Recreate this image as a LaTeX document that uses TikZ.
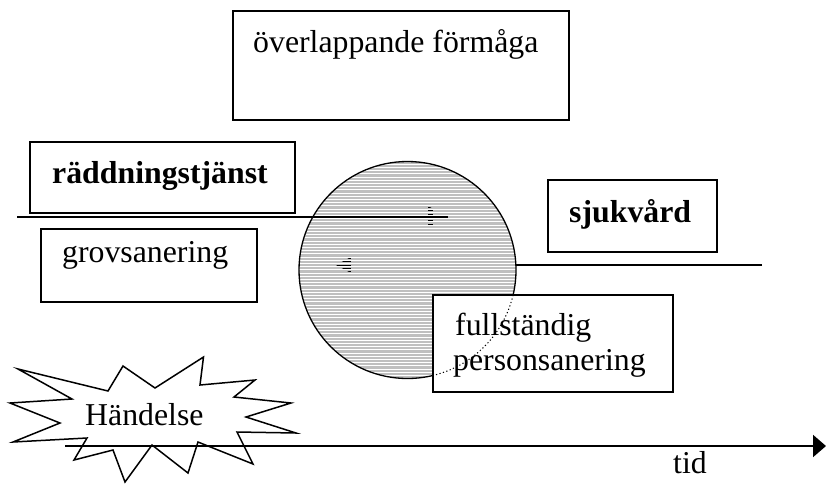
\documentclass[tikz,border=0pt]{standalone}
\usepackage{fontspec}
\setmainfont{Liberation Serif}
\usetikzlibrary{arrows.meta}
\begin{document}
\begin{tikzpicture}[x=1pt,y=-1pt,
  box/.style={draw, line width=1.5pt, fill=white, inner sep=0pt},
  lbl/.style={anchor=base west, inner sep=0pt, font=\fontsize{31.8}{38}\selectfont},
  thinline/.style={line width=1.8pt},
  stripes/.style={white, line width=0.9pt}]
\useasboundingbox (0,0) rectangle (826,483);

% event star
\draw[line width=1.5pt, fill=white, line join=miter]
  (18,369) -- (108,391) -- (123,366) -- (155,388) -- (203.5,357) -- (200,385)
  -- (255,380) -- (234,397) -- (291,403) -- (246,417) -- (296,433) -- (237,432)
  -- (253,464) -- (198,442) -- (188,473) -- (152,445) -- (125,482) -- (113,450)
  -- (74,460) -- (87,438) -- (13,442) -- (60,423) -- (10,403) -- (72,399) -- cycle;
\node[lbl] (handelse) at (85,425) {Händelse};

% lower line (sjukvård level), hidden under the circle
\coordinate (lowR) at (762,265);
\coordinate (lowL) at (350,265);
\draw[thinline] (lowR) -- (lowL);

% circle
\coordinate (c) at (407.5,270);
\begin{scope}
  \clip (c) circle (108.5);
  \fill[gray!50] (290,155) rectangle (525,385);
  \foreach \yy in {161,164.2,...,382} \draw[stripes] (290,\yy) -- (525,\yy);
\end{scope}
\draw[line width=1.3pt] (c) circle (108.5);

% boxes
\node[box, minimum width=336pt, minimum height=109pt] (topbox) at (401,65.5) {};
\node[lbl] (toptext) at (253,52) {överlappande förmåga};

\node[box, minimum width=265pt, minimum height=71pt] (rtbox) at (162.5,177.5) {};
\node[lbl, font=\fontsize{31.8}{38}\selectfont\bfseries] (rttext) at (52,183) {räddningstjänst};

\node[box, minimum width=216pt, minimum height=73pt] (gsbox) at (149,265.5) {};
\node[lbl] (gstext) at (62,262) {grovsanering};

\node[box, minimum width=169pt, minimum height=72pt] (skbox) at (632.5,216) {};
\node[lbl, font=\fontsize{31.8}{38}\selectfont\bfseries] (sktext) at (569,222) {sjukvård};

\node[box, minimum width=240pt, minimum height=97pt] (fpbox) at (553,343.5) {};
\node[lbl] (fptext1) at (455,335) {fullständig};
\node[lbl] (fptext2) at (453,370) {personsanering};

% hidden part of circle outline, dotted
\draw[line width=1pt, dash pattern=on 1.2pt off 2.4pt] ([shift={(13.3:108.5)}]c) arc[start angle=13.3, end angle=77, radius=108.5];

% upper line (räddningstjänst level) with striped head
\coordinate (upL) at (17,217);
\coordinate (upR) at (448,217);
\draw[thinline] (upL) -- (upR);
\begin{scope}
  \clip (428,206) -- (448,217) -- (428,228) -- cycle;
  \foreach \yy in {207.5,210.8,...,227} \draw[line width=1pt] (428,\yy) -- (433,\yy);
\end{scope}

% lower head (striped, pointing left)
\begin{scope}
  \clip (336,265) -- (351,257) -- (351,273) -- cycle;
  \foreach \yy in {258.5,261.8,...,272} \draw[line width=1pt] (336,\yy) -- (351,\yy);
\end{scope}
\draw[line width=1pt] (337,265) -- (lowL);

% time axis
\coordinate (axL) at (65,446);
\coordinate (axR) at (826,446);
\draw[line width=2pt, -{Triangle[length=13pt,width=22pt]}] (axL) -- (axR);
\node[lbl] (tid) at (673,473) {tid};
\end{tikzpicture}
\end{document}
